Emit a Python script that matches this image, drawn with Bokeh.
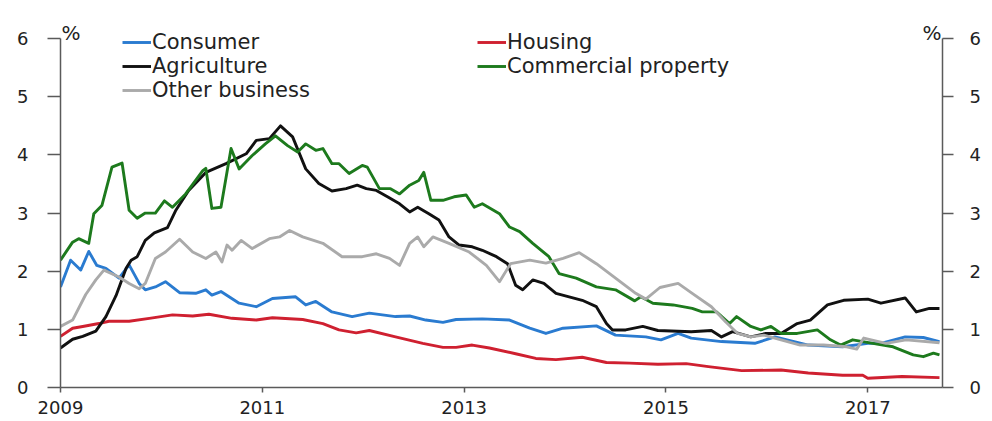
from bokeh.plotting import figure
from bokeh.models import Range1d, LinearAxis, FixedTicker, Legend, LegendItem, Label
from bokeh.embed import file_html
from bokeh.resources import INLINE

# ---- data (decimal year, %) ----
consumer_x = [2009.00, 2009.10, 2009.20, 2009.28, 2009.36, 2009.45, 2009.58, 2009.68, 2009.78, 2009.84,
              2009.94, 2010.04, 2010.18, 2010.34, 2010.44, 2010.50, 2010.59, 2010.77, 2010.94, 2011.10,
              2011.33, 2011.43, 2011.53, 2011.69, 2011.89, 2012.06, 2012.32, 2012.46, 2012.62, 2012.79,
              2012.92, 2013.18, 2013.45, 2013.65, 2013.81, 2013.98, 2014.31, 2014.50, 2014.80, 2014.95,
              2015.12, 2015.25, 2015.55, 2015.88, 2016.08, 2016.41, 2016.75, 2017.00, 2017.13, 2017.37,
              2017.55, 2017.71]
consumer_y = [1.73, 2.19, 2.02, 2.34, 2.10, 2.05, 1.88, 2.11, 1.79, 1.68,
              1.73, 1.82, 1.63, 1.62, 1.68, 1.59, 1.65, 1.45, 1.39, 1.53,
              1.56, 1.42, 1.48, 1.30, 1.22, 1.28, 1.22, 1.23, 1.16, 1.12,
              1.17, 1.18, 1.16, 1.02, 0.93, 1.02, 1.06, 0.90, 0.87, 0.82,
              0.93, 0.85, 0.79, 0.76, 0.87, 0.73, 0.70, 0.76, 0.76, 0.87,
              0.86, 0.79]

housing_x = [2009.00, 2009.12, 2009.22, 2009.38, 2009.48, 2009.68, 2009.88, 2010.11, 2010.31, 2010.47,
             2010.70, 2010.94, 2011.10, 2011.40, 2011.60, 2011.76, 2011.93, 2012.06, 2012.32, 2012.59,
             2012.79, 2012.92, 2013.08, 2013.25, 2013.51, 2013.71, 2013.91, 2014.17, 2014.41, 2014.64,
             2014.92, 2015.20, 2015.42, 2015.75, 2016.14, 2016.41, 2016.75, 2016.95, 2017.00, 2017.34,
             2017.71]
housing_y = [0.88, 1.02, 1.05, 1.10, 1.14, 1.14, 1.19, 1.25, 1.23, 1.26,
             1.19, 1.16, 1.20, 1.17, 1.10, 0.99, 0.94, 0.98, 0.87, 0.76,
             0.69, 0.69, 0.73, 0.68, 0.58, 0.50, 0.48, 0.52, 0.43, 0.42,
             0.40, 0.41, 0.36, 0.29, 0.30, 0.25, 0.21, 0.21, 0.16, 0.19,
             0.17]

agri_x = [2009.00, 2009.12, 2009.22, 2009.35, 2009.45, 2009.55, 2009.65, 2009.70, 2009.76, 2009.84,
          2009.93, 2010.06, 2010.14, 2010.27, 2010.44, 2010.64, 2010.84, 2010.94, 2011.07, 2011.18,
          2011.30, 2011.43, 2011.56, 2011.69, 2011.83, 2011.94, 2012.03, 2012.13, 2012.24, 2012.36,
          2012.46, 2012.54, 2012.65, 2012.75, 2012.85, 2012.95, 2013.08, 2013.18, 2013.32, 2013.43,
          2013.51, 2013.58, 2013.68, 2013.79, 2013.91, 2014.04, 2014.17, 2014.31, 2014.41, 2014.47,
          2014.60, 2014.77, 2014.92, 2015.25, 2015.45, 2015.55, 2015.66, 2015.84, 2015.99, 2016.14,
          2016.30, 2016.43, 2016.60, 2016.76, 2017.00, 2017.13, 2017.37, 2017.48, 2017.61, 2017.71]
agri_y = [0.68, 0.83, 0.88, 0.97, 1.22, 1.58, 2.05, 2.19, 2.25, 2.53,
          2.66, 2.75, 3.04, 3.39, 3.70, 3.85, 4.02, 4.25, 4.28, 4.50,
          4.31, 3.76, 3.51, 3.38, 3.42, 3.48, 3.42, 3.39, 3.28, 3.16,
          3.02, 3.10, 2.99, 2.88, 2.59, 2.45, 2.42, 2.36, 2.25, 2.13,
          1.76, 1.68, 1.85, 1.79, 1.62, 1.56, 1.50, 1.39, 1.10, 0.99,
          0.99, 1.05, 0.98, 0.96, 0.98, 0.87, 0.96, 0.87, 0.93, 0.93,
          1.10, 1.16, 1.42, 1.50, 1.52, 1.45, 1.54, 1.30, 1.36, 1.36]

comm_x = [2009.00, 2009.12, 2009.18, 2009.28, 2009.33, 2009.41, 2009.51, 2009.61, 2009.68, 2009.76,
          2009.84, 2009.94, 2010.03, 2010.11, 2010.24, 2010.41, 2010.44, 2010.50, 2010.59, 2010.69,
          2010.77, 2010.90, 2011.03, 2011.13, 2011.25, 2011.35, 2011.43, 2011.53, 2011.60, 2011.69,
          2011.76, 2011.86, 2011.99, 2012.04, 2012.16, 2012.27, 2012.36, 2012.46, 2012.55, 2012.60,
          2012.67, 2012.79, 2012.90, 2013.02, 2013.10, 2013.18, 2013.35, 2013.45, 2013.55, 2013.68,
          2013.84, 2013.94, 2014.11, 2014.31, 2014.50, 2014.69, 2014.75, 2014.87, 2015.07, 2015.26,
          2015.36, 2015.50, 2015.63, 2015.70, 2015.84, 2015.94, 2016.04, 2016.14, 2016.30, 2016.50,
          2016.63, 2016.73, 2016.85, 2017.05, 2017.25, 2017.45, 2017.55, 2017.65, 2017.71]
comm_y = [2.19, 2.50, 2.56, 2.48, 2.99, 3.13, 3.79, 3.86, 3.05, 2.91,
          3.00, 3.00, 3.21, 3.10, 3.33, 3.73, 3.77, 3.08, 3.10, 4.11,
          3.76, 3.99, 4.19, 4.33, 4.16, 4.05, 4.19, 4.08, 4.11, 3.85,
          3.85, 3.68, 3.82, 3.79, 3.42, 3.42, 3.33, 3.48, 3.56, 3.70,
          3.22, 3.22, 3.28, 3.31, 3.10, 3.16, 2.99, 2.76, 2.68, 2.48,
          2.25, 1.96, 1.88, 1.73, 1.68, 1.49, 1.56, 1.45, 1.42, 1.36,
          1.30, 1.30, 1.10, 1.22, 1.05, 0.99, 1.05, 0.93, 0.93, 0.99,
          0.82, 0.73, 0.82, 0.76, 0.70, 0.56, 0.53, 0.59, 0.56]

other_x = [2009.00, 2009.12, 2009.25, 2009.35, 2009.43, 2009.58, 2009.68, 2009.78, 2009.84, 2009.94,
           2010.04, 2010.18, 2010.31, 2010.44, 2010.54, 2010.60, 2010.65, 2010.70, 2010.79, 2010.90,
           2011.07, 2011.17, 2011.27, 2011.40, 2011.60, 2011.79, 2011.99, 2012.13, 2012.26, 2012.36,
           2012.46, 2012.54, 2012.60, 2012.69, 2012.85, 2013.05, 2013.22, 2013.35, 2013.46, 2013.65,
           2013.81, 2013.98, 2014.14, 2014.31, 2014.50, 2014.70, 2014.80, 2014.94, 2015.12, 2015.26,
           2015.45, 2015.59, 2015.71, 2015.84, 2015.97, 2016.14, 2016.33, 2016.56, 2016.79, 2016.89,
           2016.96, 2017.18, 2017.38, 2017.71]
other_y = [1.05, 1.16, 1.60, 1.85, 2.02, 1.90, 1.79, 1.70, 1.79, 2.22,
           2.33, 2.55, 2.33, 2.22, 2.33, 2.16, 2.45, 2.36, 2.53, 2.39,
           2.56, 2.59, 2.70, 2.59, 2.48, 2.25, 2.25, 2.30, 2.22, 2.10,
           2.48, 2.59, 2.42, 2.59, 2.48, 2.33, 2.10, 1.82, 2.13, 2.19,
           2.14, 2.22, 2.32, 2.13, 1.88, 1.62, 1.52, 1.72, 1.79, 1.62,
           1.39, 1.13, 0.93, 0.87, 0.90, 0.82, 0.73, 0.73, 0.70, 0.66,
           0.85, 0.76, 0.82, 0.77]

year_ticks = [2009, 2011, 2013, 2015, 2017]
year_labels = ["2009", "2011", "2013", "2015", "2017"]
pct_ticks = [0, 1, 2, 3, 4, 5, 6]

X_START, X_END = 2009.0, 2017.74
Y_TOP = 6

FONT = "DejaVu Sans"
AXIS_COL = "#5a5a5a"
TEXT_COL = "#222222"

p = figure(width=990, height=421, output_backend="svg", toolbar_location=None,
           x_range=Range1d(X_START, X_END), y_range=Range1d(0, 6.45),
           min_border_left=60, min_border_right=48, min_border_top=12, min_border_bottom=34)
p.outline_line_color = None
p.grid.visible = False
p.background_fill_color = "white"

# bottom axis
xa = p.xaxis[0]
xa.ticker = FixedTicker(ticks=year_ticks)
xa.major_label_overrides = {t: l for t, l in zip(year_ticks, year_labels)}
xa.major_tick_in = 0
xa.major_tick_out = 5
xa.minor_tick_line_color = None
xa.axis_line_color = AXIS_COL
xa.axis_line_width = 1.5
xa.major_tick_line_color = AXIS_COL
xa.major_tick_line_width = 1.5
xa.major_label_standoff = 8
xa.major_label_text_font = FONT
xa.major_label_text_font_size = "18px"
xa.major_label_text_color = TEXT_COL

def style_y(ax, tick_out, standoff):
    ax.ticker = FixedTicker(ticks=pct_ticks)
    ax.bounds = (0, Y_TOP)
    ax.major_tick_in = 0
    ax.major_tick_out = tick_out
    ax.minor_tick_line_color = None
    ax.axis_line_color = AXIS_COL
    ax.axis_line_width = 1.5
    ax.major_tick_line_color = AXIS_COL
    ax.major_tick_line_width = 1.5
    ax.major_label_standoff = standoff
    ax.major_label_text_font = FONT
    ax.major_label_text_font_size = "18px"
    ax.major_label_text_color = TEXT_COL

style_y(p.yaxis[0], 13, 19)
ra = LinearAxis()
style_y(ra, 11, 16)
p.add_layout(ra, "right")

LW = 2.9
r_cons = p.line(consumer_x, consumer_y, line_color="#2a7bd0", line_width=LW, line_join="round")
r_hous = p.line(housing_x, housing_y, line_color="#cf2030", line_width=LW, line_join="round")
r_agri = p.line(agri_x, agri_y, line_color="#111111", line_width=LW, line_join="round")
r_comm = p.line(comm_x, comm_y, line_color="#1d7a1d", line_width=LW, line_join="round")
r_oth = p.line(other_x, other_y, line_color="#aaaaaa", line_width=LW, line_join="round")

def make_legend(items, loc):
    return Legend(items=items, location=loc, orientation="vertical",
                  background_fill_alpha=0, border_line_color=None,
                  padding=0, margin=0, spacing=0,
                  glyph_width=29, glyph_height=20, label_height=20, label_standoff=1,
                  label_text_font=FONT, label_text_font_size="21px", label_text_color=TEXT_COL)

leg1 = make_legend([LegendItem(label="Consumer", renderers=[r_cons]),
                    LegendItem(label="Agriculture", renderers=[r_agri]),
                    LegendItem(label="Other business", renderers=[r_oth])], (62, 285))
leg2 = make_legend([LegendItem(label="Housing", renderers=[r_hous]),
                    LegendItem(label="Commercial property", renderers=[r_comm])], (417, 309))
p.add_layout(leg1, "center")
p.add_layout(leg2, "center")

# "%" unit markers at the top of each axis (kept inside the frame)
p.add_layout(Label(x=X_START, y=Y_TOP, text="%", text_align="left", text_baseline="alphabetic",
                   x_offset=1, y_offset=6, text_font=FONT, text_font_size="20px", text_color=TEXT_COL))
p.add_layout(Label(x=X_END, y=Y_TOP, text="%", text_align="right", text_baseline="alphabetic",
                   x_offset=-1, y_offset=6, text_font=FONT, text_font_size="20px", text_color=TEXT_COL))

open("out.html", "w").write(file_html(p, INLINE))
